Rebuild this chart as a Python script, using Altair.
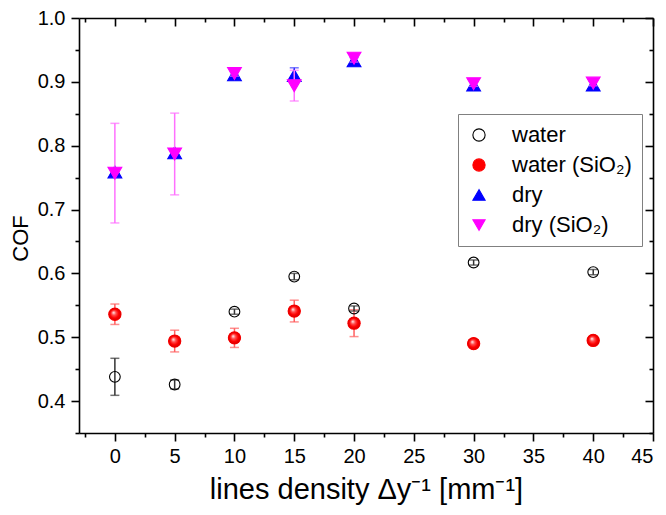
import altair as alt
import pandas as pd

# ---------------- data ----------------
x_vals = [0, 5, 10, 15, 20, 30, 40]

series_names = ["water", "water (SiO₂)", "dry", "dry (SiO₂)"]

water_y = [0.438, 0.426, 0.540, 0.595, 0.545, 0.617, 0.602]
water_err = [0.029, 0.007, 0.004, 0.005, 0.004, 0.004, 0.004]

water_sio2_y = [0.536, 0.494, 0.499, 0.541, 0.522, 0.490, 0.495]
water_sio2_err = [0.016, 0.017, 0.015, 0.017, 0.021, 0.002, 0.002]

dry_y = [0.759, 0.789, 0.911, 0.910, 0.933, 0.895, 0.895]
dry_err = [0.003, 0.003, 0.004, 0.012, 0.005, 0.005, 0.006]

dry_sio2_y = [0.757, 0.787, 0.913, 0.894, 0.937, 0.897, 0.898]
dry_sio2_err = [0.078, 0.064, 0.004, 0.024, 0.006, 0.004, 0.004]

x_major = [0, 5, 10, 15, 20, 25, 30, 35, 40, 45]
x_minor = [-2.5, 2.5, 7.5, 12.5, 17.5, 22.5, 27.5, 32.5, 37.5, 42.5]
y_major = [0.4, 0.5, 0.6, 0.7, 0.8, 0.9, 1.0]
y_minor = [0.35, 0.45, 0.55, 0.65, 0.75, 0.85, 0.95]

x_title = "lines density Δy⁻¹ [mm⁻¹]"
y_title = "COF"

# ---------------- build table ----------------
rows = []
for name, ys_, es_ in [
    ("water", water_y, water_err),
    ("water (SiO₂)", water_sio2_y, water_sio2_err),
    ("dry", dry_y, dry_err),
    ("dry (SiO₂)", dry_sio2_y, dry_sio2_err),
]:
    for xv, yv, ev in zip(x_vals, ys_, es_):
        rows.append(dict(x=xv, series=name, y=yv, lo=yv - ev, hi=yv + ev))
df = pd.DataFrame(rows)

W, H = 574, 415
FONT = "Liberation Sans"

xs = alt.Scale(domain=[-3, 45], nice=False, zero=False)
ys = alt.Scale(domain=[0.35, 1.0], nice=False, zero=False)

stroke_scale = alt.Scale(domain=series_names, range=["#000000", "#ff0000", "#0000ff", "#ff00ff"])
fill_scale = alt.Scale(domain=series_names, range=["transparent", "#ff0000", "#0000ff", "#ff00ff"])
shape_scale = alt.Scale(domain=series_names, range=["circle", "circle", "triangle-up", "triangle-down"])

err_colors = {
    "water": "#333333",
    "water (SiO₂)": "#ff6060",
    "dry": "#3a3aff",
    "dry (SiO₂)": "#ff70ff",
}
pt_sizes = {"water": 115, "water (SiO₂)": 150, "dry": 190, "dry (SiO₂)": 190}

common_axis = dict(
    grid=False,
    domainColor="black",
    domainWidth=1.6,
    tickColor="black",
    tickWidth=1.6,
    labelFont=FONT,
    labelFontSize=20,
    labelColor="black",
    titleFont=FONT,
    titleColor="black",
    titleFontWeight="normal",
)


def axis_layer(xaxis, yaxis):
    return alt.Chart(df).mark_point(opacity=0).encode(
        x=alt.X("x:Q", scale=xs, axis=xaxis),
        y=alt.Y("y:Q", scale=ys, axis=yaxis),
    )


ax_main = axis_layer(
    alt.Axis(orient="bottom", values=x_major, tickSize=8, labelPadding=5,
             title=x_title, titleFontSize=29, titlePadding=9, domain=True, **common_axis),
    alt.Axis(orient="left", values=y_major, tickSize=8, labelPadding=6, format=".1f",
             title=y_title, titleFontSize=22, titlePadding=5, titleY=220,
             domain=True, **common_axis),
)
ax_minor = axis_layer(
    alt.Axis(orient="bottom", values=x_minor, tickSize=4, labels=False, title=None,
             domain=False, **common_axis),
    alt.Axis(orient="left", values=y_minor, tickSize=4, labels=False, title=None,
             domain=False, **common_axis),
)
ax_mirror = axis_layer(
    alt.Axis(orient="bottom", offset=-H, values=x_major, tickSize=8, labels=False,
             title=None, domain=True, **common_axis),
    alt.Axis(orient="left", offset=-W, values=y_major, tickSize=8, labels=False,
             title=None, domain=True, **common_axis),
)
ax_mirror_minor = axis_layer(
    alt.Axis(orient="bottom", offset=-H, values=x_minor, tickSize=4, labels=False,
             title=None, domain=False, **common_axis),
    alt.Axis(orient="left", offset=-W, values=y_minor, tickSize=4, labels=False,
             title=None, domain=False, **common_axis),
)

layers = [ax_main, ax_minor, ax_mirror, ax_mirror_minor]

draw_order = ["dry", "dry (SiO₂)", "water (SiO₂)", "water"]
for name in draw_order:
    d = df[df.series == name]
    c = err_colors[name]
    base = alt.Chart(d)
    rule = base.mark_rule(color=c, strokeWidth=1.5).encode(
        x=alt.X("x:Q", scale=xs, axis=None),
        y=alt.Y("lo:Q", scale=ys, axis=None),
        y2="hi:Q",
    )
    cap_lo = base.mark_tick(color=c, orient="horizontal", size=9, thickness=1.5).encode(
        x=alt.X("x:Q", scale=xs, axis=None),
        y=alt.Y("lo:Q", scale=ys, axis=None),
    )
    cap_hi = base.mark_tick(color=c, orient="horizontal", size=9, thickness=1.5).encode(
        x=alt.X("x:Q", scale=xs, axis=None),
        y=alt.Y("hi:Q", scale=ys, axis=None),
    )
    pts = base.mark_point(size=pt_sizes[name], strokeWidth=1.1, opacity=1).encode(
        x=alt.X("x:Q", scale=xs, axis=None),
        y=alt.Y("y:Q", scale=ys, axis=None),
        stroke=alt.Stroke("series:N", scale=stroke_scale, legend=alt.Legend(title=None)),
        fill=alt.Fill("series:N", scale=fill_scale, legend=alt.Legend(title=None)),
        shape=alt.Shape("series:N", scale=shape_scale, legend=alt.Legend(title=None)),
    )
    layers += [rule, cap_lo, cap_hi, pts]
    if name == "water (SiO₂)":
        grad = alt.RadialGradient(
            gradient="radial",
            stops=[
                alt.GradientStop(color="#ffffff", offset=0.0),
                alt.GradientStop(color="#ff5050", offset=0.35),
                alt.GradientStop(color="#ff0000", offset=0.7),
                alt.GradientStop(color="#d80000", offset=1.0),
            ],
            x1=0.38, y1=0.35, r1=0.0, x2=0.5, y2=0.5, r2=0.5,
        )
        sphere = base.mark_point(size=pt_sizes[name], shape="circle", filled=True,
                                 fill=grad, strokeOpacity=0, opacity=1).encode(
            x=alt.X("x:Q", scale=xs, axis=None),
            y=alt.Y("y:Q", scale=ys, axis=None),
        )
        layers.append(sphere)

chart = (
    alt.layer(*layers)
    .resolve_axis(x="independent", y="independent")
    .properties(
        width=W,
        height=H,
        autosize=alt.AutoSizeParams(type="none"),
        padding={"left": 71, "top": 10, "right": 5, "bottom": 80},
        background="white",
    )
    .configure_view(stroke=None)
    .configure_legend(
        orient="none",
        legendX=379,
        legendY=96,
        strokeColor="#808080",
        fillColor="white",
        padding=10,
        labelFont=FONT,
        labelFontSize=22,
        labelColor="black",
        symbolSize=150,
        symbolStrokeWidth=1.1,
        rowPadding=8,
        labelOffset=22,
        cornerRadius=0,
    )
)

chart.save("out.html", embed_options={"renderer": "svg", "actions": False})
